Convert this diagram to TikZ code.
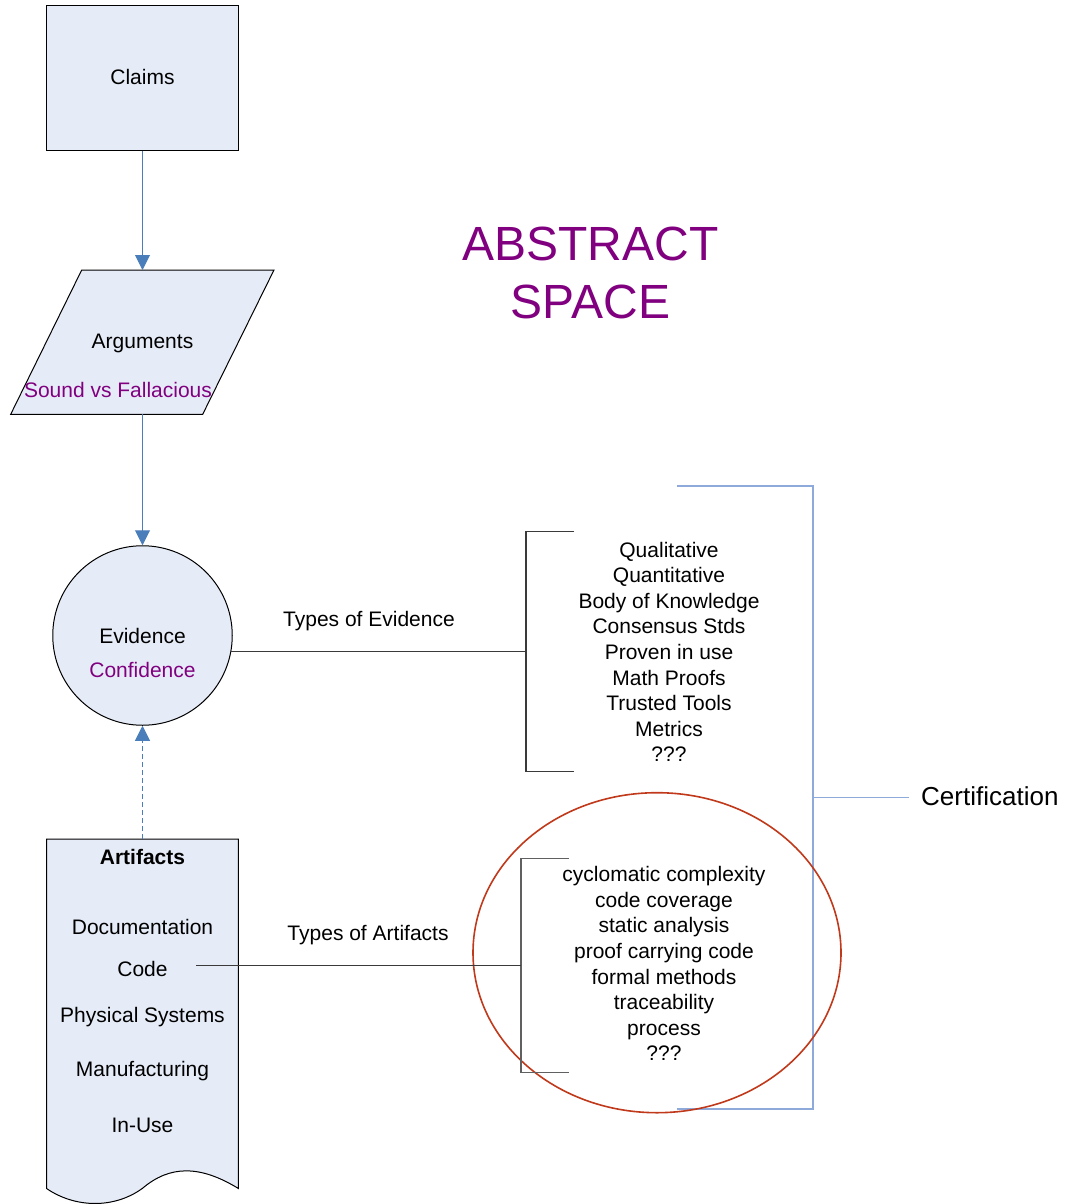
\documentclass[tikz,border=0pt]{standalone}
\usepackage{fontspec}
\setmainfont{Liberation Sans}
\usetikzlibrary{arrows.meta,shapes.geometric}
\definecolor{boxfill}{HTML}{E6ECF7}
\definecolor{flowblue}{HTML}{4A7EBB}
\definecolor{purp}{HTML}{800080}
\definecolor{certblue}{HTML}{8EAADB}
\definecolor{ellred}{HTML}{C0391B}
\definecolor{dark}{HTML}{3A3A3A}
\definecolor{midgray}{HTML}{606060}
\begin{document}
\begin{tikzpicture}[x=1pt,y=-1pt,
  txt/.style={font=\fontsize{21}{25.6}\selectfont, inner sep=0pt, anchor=base},
  txtbold/.style={font=\fontsize{21}{25.6}\selectfont\bfseries, inner sep=0pt, anchor=base},
  bigtxt/.style={font=\fontsize{48}{58}\selectfont, text=purp, inner sep=0pt, anchor=base},
  certtxt/.style={font=\fontsize{26}{30}\selectfont, inner sep=0pt, anchor=base west},
  flow/.style={draw=flowblue, line width=1pt, -{Triangle[width=15pt,length=15pt]}},
  shapebox/.style={draw=black, fill=boxfill, line width=1pt},
  conn/.style={draw=dark, line width=1pt},
  brk/.style={draw=dark, line width=1.2pt},
  brkgray/.style={draw=midgray, line width=1.2pt},
  certline/.style={draw=certblue, line width=1.2pt}]
\useasboundingbox (0,0) rectangle (1065,1204);

% Claims
\node[shapebox, minimum width=191.5pt, minimum height=144pt, inner sep=0pt] (claims) at (142.5,78) {};
\node[txt] (claimst) at (142.5,85) {Claims};

% Arguments
\draw[shapebox] (81.7,270) -- (274,270) -- (202.7,414.3) -- (10.7,414.3) -- cycle;
\coordinate (argtop) at (142.5,270);
\coordinate (argbot) at (142.5,414.3);
\node[txt] (args) at (142.5,348) {Arguments};
\node[txt, text=purp] (sound) at (118,397) {Sound vs Fallacious};
\draw[flow] (claims.south) -- (argtop);

% Evidence
\node[circle, shapebox, minimum size=179.5pt, inner sep=0pt] (evid) at (142.5,635.5) {};
\node[txt] (evidt) at (142.5,643) {Evidence};
\node[txt, text=purp] (conf) at (142.5,677) {Confidence};
\draw[flow] (argbot) -- (evid.north);

% Artifacts document
\node[minimum width=191.5pt, minimum height=349pt, inner sep=0pt] (art) at (142.5,1013.8) {};
\draw[shapebox] (art.south west) -- (art.north west) -- (art.north east) -- (art.south east)
  .. controls (200,1165) and (170,1165) .. (142.5,1188.3)
  .. controls (114,1209) and (75,1208) .. (art.south west) -- cycle;
\node[txtbold] (artt) at (142.5,864) {Artifacts};
\node[txt] (doc) at (142.5,934) {Documentation};
\node[txt] (code) at (142.5,976) {Code};
\node[txt] (phys) at (142.5,1022.7) {Physical Systems};
\node[txt] (manu) at (142.5,1076) {Manufacturing};
\node[txt] (inuse) at (142.5,1132) {In-Use};
\draw[flow, dash pattern=on 5pt off 3pt] (art.north) -- (evid.south);

% Abstract space
\node[bigtxt] (abs1) at (590.5,260) {ABSTRACT};
\node[bigtxt] (abs2) at (590.5,318.3) {SPACE};

% Certification bracket
\draw[certline] (677.4,486) -- (813,486) -- (813,1109) -- (677.4,1109);
\coordinate (certmid) at (813,797.3);
\node[certtxt] (cert) at (921,805) {Certification};
\draw[certline] (certmid) -- ([xshift=-12pt]cert.west |- certmid);

% Red ellipse
\node[ellipse, draw=ellred, line width=1.6pt, minimum width=368pt, minimum height=320pt, inner sep=0pt] (ell) at (657,952.7) {};

% Evidence types
\coordinate (br1mid) at (526,651.7);
\draw[brk] (574,531.7) -- (526,531.7) -- (526,771.7) -- (574,771.7);
\draw[conn] (evid.-10) -- (evid.-10 -| br1mid);
\node[txt] (tev) at (369,626) {Types of Evidence};
\foreach \t [count=\i from 0] in {Qualitative,Quantitative,Body of Knowledge,Consensus Stds,Proven in use,Math Proofs,Trusted Tools,Metrics,???}
  \node[txt] (ev\i) at (669,{557+\i*25.6}) {\t};

% Artifact types
\coordinate (br2mid) at (521,965);
\coordinate (codeend) at (196,965);
\draw[brkgray] (569,858.3) -- (521,858.3) -- (521,1072.7) -- (569,1072.7);
\draw[conn] (codeend) -- (br2mid);
\node[txt] (tart) at (368,940) {Types of Artifacts};
\foreach \t [count=\i from 0] in {cyclomatic complexity,code coverage,static analysis,proof carrying code,formal methods,traceability,process,???}
  \node[txt] (at\i) at (664,{881.7+\i*25.6}) {\t};
\end{tikzpicture}
\end{document}
